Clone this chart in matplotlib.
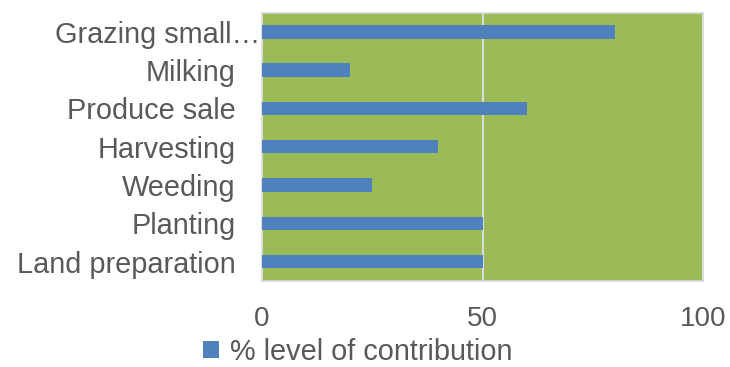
import matplotlib.pyplot as plt
import matplotlib.transforms as mtransforms
from matplotlib.patches import Patch

plt.rcParams['font.family'] = ['Liberation Sans', 'DejaVu Sans']

activities = ['Land preparation', 'Planting', 'Weeding', 'Harvesting',
              'Produce sale', 'Milking', 'Grazing small\u2026']
contribution = [50, 50, 25, 40, 60, 20, 80]
series_name = '% level of contribution'

text_col = '#595959'
bar_col = '#4F81BD'
bg_col = '#9BBB59'
grid_col = '#D9D9D9'

fig = plt.figure(figsize=(7.3, 3.67), dpi=100)
ax = fig.add_axes([262 / 730, 1 - 280.7 / 367, 441 / 730, 268 / 367])
ax.set_facecolor(bg_col)

pos = range(len(activities))
ax.barh(pos, contribution, height=0.35, color=bar_col, zorder=3)

ax.set_xlim(0, 100)
ax.set_ylim(-0.5, len(activities) - 0.5)
ax.set_xticks([0, 50, 100])
ax.set_yticks(list(pos))
ax.set_yticklabels(activities)
ax.tick_params(axis='both', length=0, labelsize=20.8, colors=text_col)
ax.tick_params(axis='x', labelsize=20, pad=18)
ax.tick_params(axis='y', pad=19)

# the truncated label runs up to the axis edge
long_lbl = ax.get_yticklabels()[-1]
long_lbl.set_transform(long_lbl.get_transform() +
                       mtransforms.ScaledTranslation(0.25, 0, fig.dpi_scale_trans))

ax.xaxis.grid(True, color=grid_col, linewidth=1.5, zorder=1)
ax.set_axisbelow(True)
for s in ax.spines.values():
    s.set_color(grid_col)
    s.set_linewidth(1.2)

handle = Patch(facecolor=bar_col, edgecolor='none')
fig.legend([handle], [series_name], loc='center',
           bbox_to_anchor=(358 / 730, 1 - 352 / 367), frameon=False,
           fontsize=20.8, labelcolor=text_col, handlelength=0.55,
           handleheight=0.55, handletextpad=0.4, borderpad=0.1)

fig.savefig('out.png', dpi=100, facecolor='white')
